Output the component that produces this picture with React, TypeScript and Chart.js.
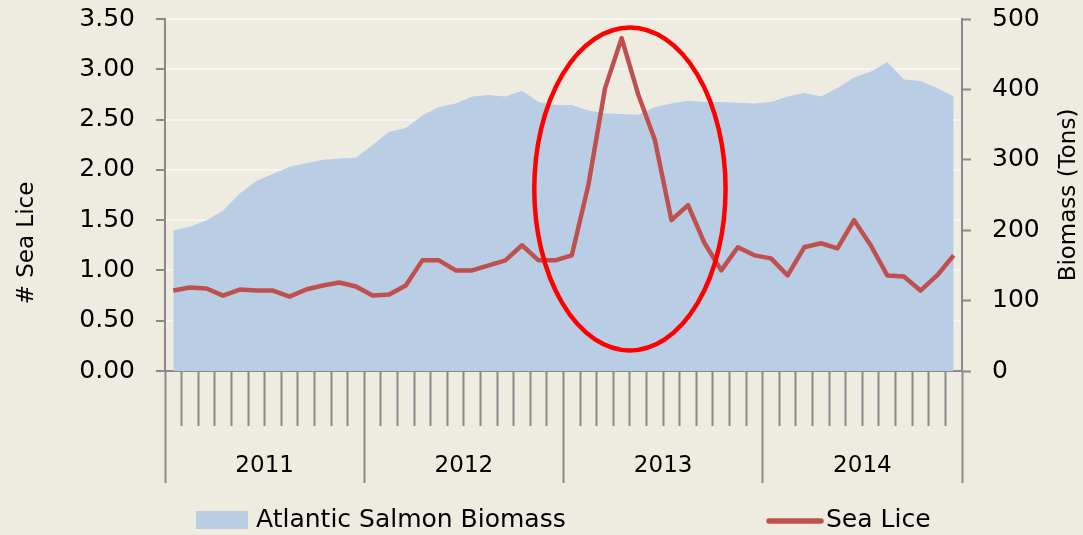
import React, { useEffect, useRef } from 'react';
import { Chart, registerables } from 'chart.js';

Chart.register(...registerables);

const YEARS = ['2011', '2012', '2013', '2014'];
const MONTH_NAMES = ['Jan', 'Feb', 'Mar', 'Apr', 'May', 'Jun', 'Jul', 'Aug', 'Sep', 'Oct', 'Nov', 'Dec'];
const MONTHS = YEARS.flatMap((y) => MONTH_NAMES.map((m) => `${m} ${y}`));

const SEA_LICE = [
  0.80, 0.83, 0.82, 0.75, 0.81, 0.80, 0.80, 0.74, 0.81, 0.85, 0.88, 0.84,
  0.75, 0.76, 0.85, 1.10, 1.10, 1.00, 1.00, 1.05, 1.10, 1.25, 1.10, 1.10,
  1.15, 1.85, 2.81, 3.31, 2.75, 2.30, 1.50, 1.65, 1.27, 1.00, 1.23, 1.15,
  1.12, 0.95, 1.23, 1.27, 1.22, 1.50, 1.25, 0.95, 0.94, 0.80, 0.95, 1.15,
];

const BIOMASS = [
  200, 205, 214, 228, 252, 270, 280, 290, 295, 300, 302, 303,
  321, 340, 345, 363, 375, 380, 390, 392, 390, 398, 382, 378,
  378, 370, 366, 365, 364, 375, 380, 384, 382, 382, 381, 380,
  382, 390, 395, 390, 402, 417, 425, 439, 414, 412, 402, 390,
];

const LICE_AXIS = { min: 0, max: 3.5, step: 0.5 };
const BIOMASS_AXIS = { min: 0, max: 500, step: 100 };

// highlight ellipse around the 2013 spike (in data units)
const HIGHLIGHT = { centerMonth: 27.5, centerLice: 1.81, halfMonths: 5.76, halfLice: 1.605 };

const BG = '#EEECE1';
const AREA = '#B9CDE5';
const LINE = '#C0504D';
const AXIS = '#898989';
const FONT = '"DejaVu Sans", sans-serif';

const bgPlugin = {
  id: 'bg',
  beforeDraw(chart: any) {
    const { ctx, width, height } = chart;
    ctx.save();
    ctx.fillStyle = BG;
    ctx.fillRect(0, 0, width, height);
    ctx.restore();
  },
};

const ellipsePlugin = {
  id: 'highlight',
  afterDatasetsDraw(chart: any) {
    const { ctx } = chart;
    const x = chart.scales.x;
    const y = chart.scales.y;
    const cx = x.getPixelForValue(HIGHLIGHT.centerMonth);
    const rx = x.getPixelForValue(HIGHLIGHT.centerMonth + HIGHLIGHT.halfMonths) - cx;
    const cy = y.getPixelForValue(HIGHLIGHT.centerLice);
    const ry = cy - y.getPixelForValue(HIGHLIGHT.centerLice + HIGHLIGHT.halfLice);
    ctx.save();
    ctx.beginPath();
    ctx.ellipse(cx, cy, rx, ry, 0, 0, Math.PI * 2);
    ctx.lineWidth = 4.5;
    ctx.strokeStyle = '#FF0000';
    ctx.stroke();
    ctx.restore();
  },
};

const textPlugin = {
  id: 'texts',
  afterDraw(chart: any) {
    const { ctx, chartArea, width, height } = chart;
    ctx.save();
    ctx.fillStyle = '#000';
    ctx.textBaseline = 'middle';
    ctx.textAlign = 'center';
    // axis titles
    ctx.font = `23px ${FONT}`;
    ctx.save();
    ctx.translate(27, 243);
    ctx.rotate(-Math.PI / 2);
    ctx.fillText('# Sea Lice', 0, 0);
    ctx.restore();
    ctx.save();
    ctx.translate(width - 14, (chartArea.top + chartArea.bottom) / 2);
    ctx.rotate(-Math.PI / 2);
    ctx.fillText('Biomass (Tons)', 0, 0);
    ctx.restore();

    // legend
    const ly = height - 15;
    ctx.font = `25px ${FONT}`;
    ctx.textAlign = 'left';
    ctx.fillStyle = AREA;
    ctx.fillRect(196, ly - 9, 52, 18);
    ctx.fillStyle = '#000';
    ctx.fillText('Atlantic Salmon Biomass', 256, ly);
    ctx.beginPath();
    ctx.moveTo(769, ly + 1);
    ctx.lineTo(821, ly + 1);
    ctx.lineWidth = 5.5;
    ctx.lineCap = 'round';
    ctx.strokeStyle = LINE;
    ctx.stroke();
    ctx.fillText('Sea Lice', 826, ly);
    ctx.restore();
  },
};

export default function App() {
  const ref = useRef<HTMLCanvasElement>(null);

  useEffect(() => {
    document.body.style.margin = '0';
    const chart = new Chart(ref.current as HTMLCanvasElement, {
      type: 'line',
      data: {
        labels: MONTHS,
        datasets: [
          {
            label: 'Sea Lice',
            data: SEA_LICE,
            borderColor: LINE,
            backgroundColor: LINE,
            borderWidth: 4.5,
            pointRadius: 0,
            tension: 0,
            borderJoinStyle: 'round',
            fill: false,
            yAxisID: 'y',
          },
          {
            label: 'Atlantic Salmon Biomass',
            data: BIOMASS,
            borderColor: 'rgba(0,0,0,0)',
            backgroundColor: AREA,
            borderWidth: 0,
            pointRadius: 0,
            tension: 0,
            fill: 'origin',
            yAxisID: 'y1',
          },
        ],
      },
      options: {
        responsive: false,
        animation: false,
        devicePixelRatio: 1,
        events: [],
        layout: { padding: { top: 19, bottom: 52, left: 0, right: 0 } },
        plugins: {
          legend: { display: false },
          tooltip: { enabled: false },
        },
        scales: {
          x: {
            type: 'category',
            position: 'bottom',
            weight: 0,
            offset: true,
            grid: {
              offset: true,
              drawOnChartArea: false,
              drawTicks: true,
              tickLength: 55,
              tickColor: AXIS,
              tickWidth: 2,
            },
            border: { display: true, color: AXIS, width: 2 },
            ticks: { display: false, autoSkip: false },
            afterFit(scale: any) {
              scale.height = 55;
            },
          },
          x2: {
            type: 'category',
            labels: YEARS,
            position: 'bottom',
            weight: 1,
            offset: true,
            grid: {
              offset: true,
              drawOnChartArea: false,
              drawTicks: true,
              tickLength: 57,
              tickColor: AXIS,
              tickWidth: 2,
            },
            border: { display: false },
            ticks: {
              color: '#000',
              font: { family: FONT, size: 23 },
              padding: -31,
              maxRotation: 0,
              autoSkip: false,
            },
            afterFit(scale: any) {
              scale.height = 57;
            },
          },
          y: {
            type: 'linear',
            position: 'left',
            min: LICE_AXIS.min,
            max: LICE_AXIS.max,
            grid: {
              color: '#F6F5F1',
              lineWidth: 2,
              tickColor: AXIS,
              tickWidth: 2,
              tickLength: 9,
            },
            border: { display: true, color: AXIS, width: 2 },
            ticks: {
              stepSize: LICE_AXIS.step,
              color: '#000',
              padding: 21,
              font: { family: FONT, size: 25 },
              callback: (v: any) => Number(v).toFixed(2),
            },
            afterFit(scale: any) {
              scale.width = 165;
              scale.paddingTop = 0;
              scale.paddingBottom = 0;
            },
          },
          y1: {
            type: 'linear',
            position: 'right',
            min: BIOMASS_AXIS.min,
            max: BIOMASS_AXIS.max,
            grid: {
              drawOnChartArea: false,
              tickColor: AXIS,
              tickWidth: 2,
              tickLength: 9,
            },
            border: { display: true, color: AXIS, width: 2 },
            ticks: {
              stepSize: BIOMASS_AXIS.step,
              color: '#000',
              padding: 21,
              font: { family: FONT, size: 25 },
            },
            afterFit(scale: any) {
              scale.width = 121;
              scale.paddingTop = 0;
              scale.paddingBottom = 0;
            },
          },
        },
      },
      plugins: [bgPlugin, ellipsePlugin, textPlugin],
    } as any);
    return () => chart.destroy();
  }, []);

  return (
    <div style={{ position: 'absolute', left: 0, top: 0, width: 1083, height: 535, background: BG }}>
      <canvas ref={ref} width={1083} height={535} />
    </div>
  );
}
